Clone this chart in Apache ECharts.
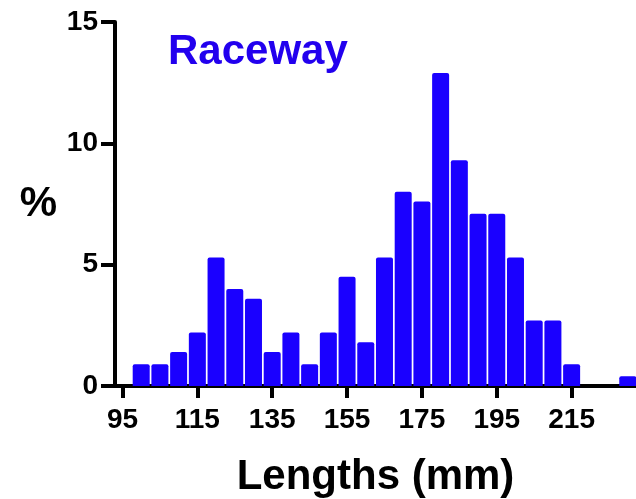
<!DOCTYPE html>
<html>
<head>
<meta charset="utf-8">
<script src="https://cdn.jsdelivr.net/npm/echarts@6/dist/echarts.min.js"></script>
<style>
    html, body { margin: 0; padding: 0; background: #fff; }
    #chart { width: 636px; height: 499px; }
</style>
</head>
<body>
<div id="chart"></div>
<script>
// bin centres (mm) and share of fish in each bin (%)
var binCenters = [100, 105, 110, 115, 120, 125, 130, 135, 140, 145, 150, 155, 160,
    165, 170, 175, 180, 185, 190, 195, 200, 205, 210, 215, 220, 225, 230];
var percents = [0.9, 0.9, 1.4, 2.2, 5.3, 4.0, 3.6, 1.4, 2.2, 0.9, 2.2, 4.5, 1.8,
    5.3, 8.0, 7.6, 12.9, 9.3, 7.1, 7.1, 5.3, 2.7, 2.7, 0.9, 0, 0, 0.4];
var xTicks = [95, 115, 135, 155, 175, 195, 215];

var FONT = 'Liberation Sans, Arial, sans-serif';

var myChart = echarts.init(document.getElementById('chart'));

var barData = binCenters.map(function (x, i) {
    return [x, percents[i]];
});

var option = {
    animation: false,
    title: {
        text: 'Raceway',
        left: 163,
        top: 26,
        textStyle: {
            fontFamily: FONT,
            fontSize: 42,
            fontWeight: 'bold',
            color: '#2200ee'
        }
    },
    grid: {
        left: 115,
        right: 0,
        top: 22,
        bottom: 113,
        outerBoundsMode: 'none',
        containLabel: false
    },
    xAxis: {
        type: 'value',
        min: 93,
        max: 232.2,
        name: 'Lengths (mm)',
        nameLocation: 'middle',
        nameGap: 70,
        nameTextStyle: {
            fontFamily: FONT,
            fontSize: 42,
            fontWeight: 'bold',
            color: '#000'
        },
        splitLine: { show: false },
        axisLine: {
            onZero: false,
            lineStyle: { color: '#000', width: 4 }
        },
        axisTick: {
            customValues: xTicks,
            length: 12,
            lineStyle: { color: '#000', width: 4 }
        },
        axisLabel: {
            customValues: xTicks,
            margin: 20,
            fontFamily: FONT,
            fontSize: 28,
            fontWeight: 'bold',
            color: '#000'
        }
    },
    yAxis: {
        type: 'value',
        min: 0,
        max: 15,
        interval: 5,
        name: '%',
        nameLocation: 'middle',
        nameRotate: 0,
        nameGap: 58,
        nameTextStyle: {
            fontFamily: FONT,
            fontSize: 42,
            fontWeight: 'bold',
            color: '#000'
        },
        splitLine: { show: false },
        axisLine: {
            show: true,
            lineStyle: { color: '#000', width: 4 }
        },
        axisTick: {
            show: true,
            length: 14,
            lineStyle: { color: '#000', width: 4 }
        },
        axisLabel: {
            margin: 17,
            fontFamily: FONT,
            fontSize: 28,
            fontWeight: 'bold',
            color: '#000'
        }
    },
    series: [
        {
            type: 'bar',
            barWidth: 17,
            data: barData,
            itemStyle: {
                color: '#1a00ff',
                borderRadius: [2, 2, 0, 0]
            }
        }
    ]
};

window.addEventListener('resize', function () {
    myChart.resize();
});
myChart.setOption(option);
</script>
</body>
</html>
